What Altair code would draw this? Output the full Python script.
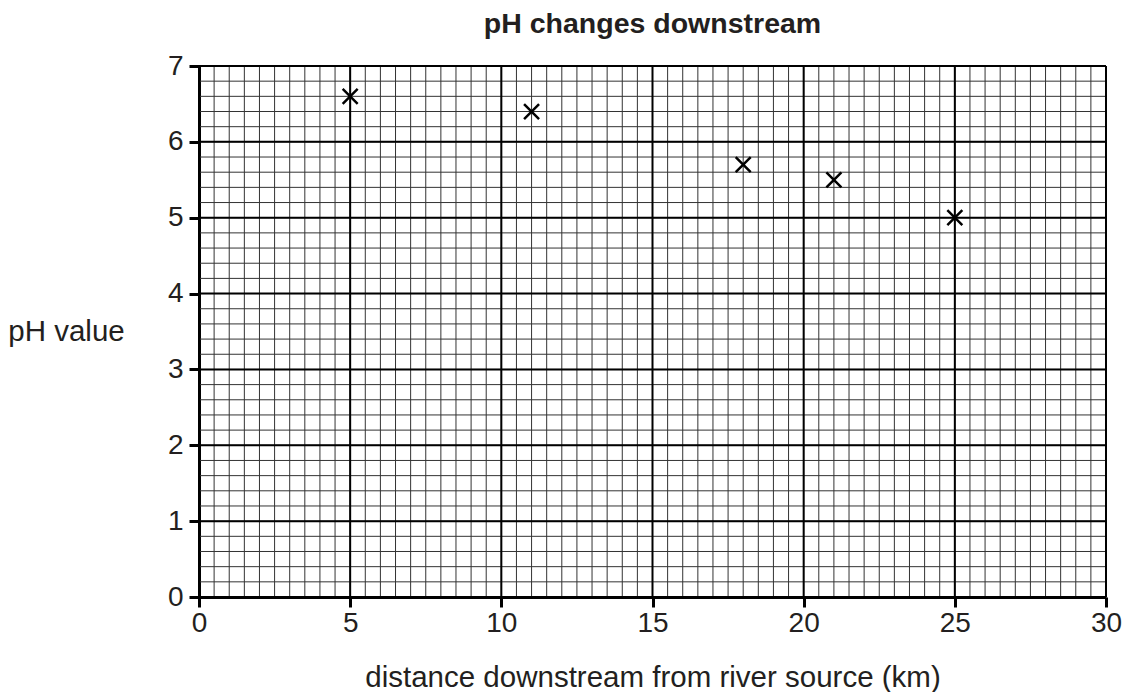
import altair as alt
import pandas as pd

# Data
distance_km = [5, 11, 18, 21, 25]
ph_value = [6.6, 6.4, 5.7, 5.5, 5.0]

x_ticks = [0, 5, 10, 15, 20, 25, 30]
y_ticks = [0, 1, 2, 3, 4, 5, 6, 7]

# Graph-paper grid positions
minor_x = [i * 0.5 for i in range(61)]
minor_y = [i * 0.2 for i in range(36)]
major_x = x_ticks
major_y = y_ticks

FONT = "Liberation Sans"
W, H = 907, 531

xscale = alt.Scale(domain=[0, 30], nice=False, zero=False)
yscale = alt.Scale(domain=[0, 7], nice=False, zero=False)

x_axis = alt.Axis(
    values=x_ticks,
    grid=False,
    domainColor="#000000",
    domainWidth=3,
    tickColor="#000000",
    tickWidth=3,
    tickSize=10,
    labelFont=FONT,
    labelFontSize=28,
    labelColor="#231f20",
    labelPadding=2,
    labelFlush=False,
    labelOverlap=False,
    title="distance downstream from river source (km)",
    titleFont=FONT,
    titleFontSize=29.5,
    titleFontWeight="normal",
    titleColor="#231f20",
    titleX=W / 2,
    titleY=89,
    titleAlign="center",
    titleBaseline="alphabetic",
)
y_axis = alt.Axis(
    values=y_ticks,
    grid=False,
    domainColor="#000000",
    domainWidth=3,
    tickColor="#000000",
    tickWidth=3,
    tickSize=10,
    labelFont=FONT,
    labelFontSize=28,
    labelColor="#231f20",
    labelPadding=6,
    labelFlush=False,
    labelOverlap=False,
    title="pH value",
    titleFont=FONT,
    titleFontSize=29.5,
    titleFontWeight="normal",
    titleColor="#231f20",
    titleAngle=0,
    titleX=-133,
    titleY=H / 2,
    titleAlign="center",
    titleBaseline="middle",
)

minor_v = alt.Chart(pd.DataFrame({"gx": minor_x})).mark_rule(
    color="#333333", strokeWidth=1
).encode(x=alt.X("gx:Q", scale=xscale, axis=x_axis))
minor_h = alt.Chart(pd.DataFrame({"gy": minor_y})).mark_rule(
    color="#333333", strokeWidth=1
).encode(y=alt.Y("gy:Q", scale=yscale, axis=y_axis))
major_v = alt.Chart(pd.DataFrame({"gx": major_x})).mark_rule(
    color="#000000", strokeWidth=2
).encode(x=alt.X("gx:Q", scale=xscale, axis=x_axis))
major_h = alt.Chart(pd.DataFrame({"gy": major_y})).mark_rule(
    color="#000000", strokeWidth=2
).encode(y=alt.Y("gy:Q", scale=yscale, axis=y_axis))

points = alt.Chart(
    pd.DataFrame({"distance": distance_km, "ph": ph_value})
).mark_point(
    shape="M-1,-1L1,1M-1,1L1,-1",
    size=225,
    stroke="#000000",
    strokeWidth=2.5,
    filled=False,
    opacity=1,
).encode(
    x=alt.X("distance:Q", scale=xscale, axis=x_axis),
    y=alt.Y("ph:Q", scale=yscale, axis=y_axis),
)

chart = alt.layer(minor_v, minor_h, major_v, major_h, points).properties(
    width=W,
    height=H,
    title=alt.TitleParams(
        "pH changes downstream",
        font=FONT,
        fontSize=28.5,
        fontWeight="bold",
        color="#231f20",
        anchor="middle",
        offset=14,
    ),
    autosize=alt.AutoSizeParams(type="none"),
    padding={"left": 191, "top": 58, "right": 18, "bottom": 95},
).configure_view(stroke=None).configure(background="white")

chart.save("out.html", embed_options={"renderer": "svg", "actions": False})
